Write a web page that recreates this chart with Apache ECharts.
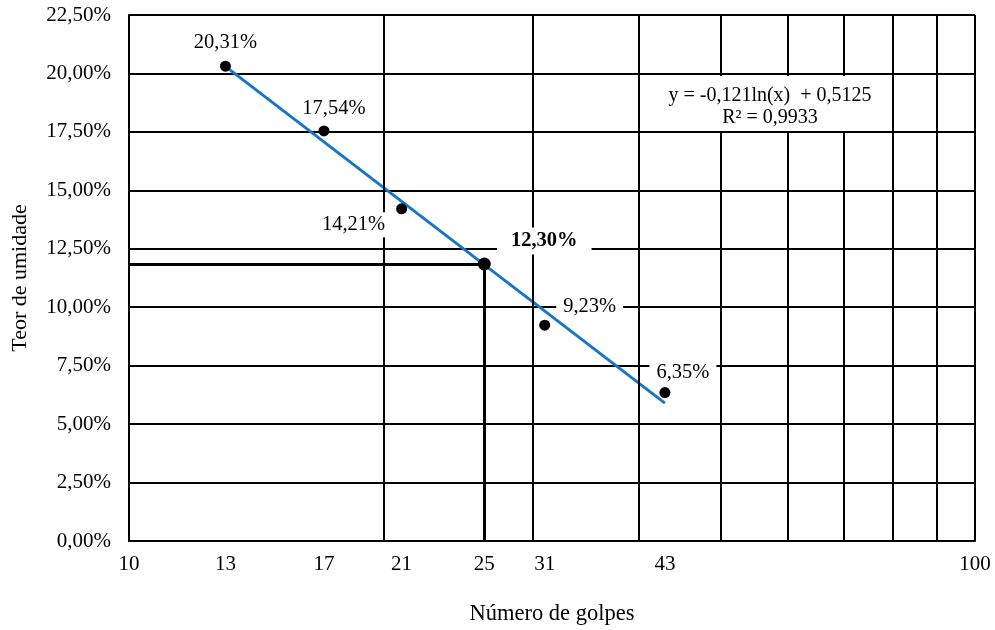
<!DOCTYPE html>
<html>
<head>
<meta charset="utf-8">
<script src="https://cdn.jsdelivr.net/npm/echarts@6/dist/echarts.min.js"></script>
<style>
html,body{margin:0;padding:0;background:#fff;}
#chart{width:995px;height:630px;}
</style>
</head>
<body>
<div id="chart"></div>
<script>
// ---- data ----
const golpes = [13, 17, 21, 26.3, 31, 43];
const teor = [20.31, 17.54, 14.21, 11.85, 9.23, 6.35];
const pointLabels = ['20,31%', '17,54%', '14,21%', '12,30%', '9,23%', '6,35%'];
const trendX = [13, 43];
const trendY = [20.3, 5.9];
const xTickPositions = [10, 13, 17, 21, 26.3, 31, 43, 100];
const xTickLabels = ['10', '13', '17', '21', '25', '31', '43', '100'];
const xGridValues = [20, 30, 40, 50, 60, 70, 80, 90];
const yMin = 0, yMax = 22.5, yStep = 2.5;
const equationLines = ['y = -0,121ln(x)  + 0,5125', 'R² = 0,9933'];
const xTitle = 'Número de golpes';
const yTitle = 'Teor de umidade';

const FONT = '"Liberation Serif", "Times New Roman", serif';

// per-point label styling
const labelStyles = [
  { offset: [0, -24] },
  { offset: [10, -22] },
  { offset: [-48, 16], backgroundColor: '#fff', padding: [2, 4] },
  { offset: [60, -23], fontWeight: 'bold', backgroundColor: '#fff', padding: [3, 14] },
  { offset: [45, -19], backgroundColor: '#fff', padding: [2, 7] },
  { offset: [18, -20], backgroundColor: '#fff', padding: [2, 7] }
];

const scatterData = golpes.map((g, i) => ({
  value: [g, teor[i]],
  symbolSize: i === 3 ? 13 : 11,
  label: Object.assign({
    show: true,
    position: 'inside',
    formatter: pointLabels[i],
    color: '#000',
    fontFamily: FONT,
    fontSize: 20.5
  }, labelStyles[i])
}));

const chart = echarts.init(document.getElementById('chart'), null, { renderer: 'canvas' });

chart.setOption({
  backgroundColor: '#fff',
  animation: false,
  grid: { left: 129, right: 20, top: 15, bottom: 89, containLabel: false, outerBoundsMode: 'none' },
  xAxis: {
    type: 'log',
    logBase: 10,
    min: 10,
    max: 100,
    name: xTitle,
    nameLocation: 'middle',
    nameGap: 62,
    nameTextStyle: { fontFamily: FONT, fontSize: 22.5, color: '#000' },
    axisLine: { show: true, lineStyle: { color: '#000', width: 2 } },
    axisTick: { show: false },
    splitLine: { show: false },
    axisLabel: {
      customValues: xTickPositions,
      formatter: function (v) {
        let best = 0;
        for (let i = 0; i < xTickPositions.length; i++) {
          if (Math.abs(xTickPositions[i] - v) < Math.abs(xTickPositions[best] - v)) best = i;
        }
        return xTickLabels[best];
      },
      margin: 13,
      fontFamily: FONT,
      fontSize: 21,
      color: '#000'
    }
  },
  yAxis: {
    type: 'value',
    min: yMin,
    max: yMax,
    interval: yStep,
    name: yTitle,
    nameLocation: 'middle',
    nameGap: 98,
    nameRotate: 90,
    nameTextStyle: { fontFamily: FONT, fontSize: 22, color: '#000' },
    axisLine: { show: true, lineStyle: { color: '#000', width: 2 } },
    axisTick: { show: false },
    splitLine: { show: true, lineStyle: { color: '#000', width: 2 } },
    axisLabel: {
      formatter: v => v.toFixed(2).replace('.', ',') + '%',
      margin: 18,
      fontFamily: FONT,
      fontSize: 21,
      color: '#000'
    }
  },
  series: [
    {
      type: 'line',
      data: [],
      silent: true,
      markLine: {
        silent: true,
        symbol: 'none',
        label: { show: false },
        lineStyle: { color: '#000', width: 2, type: 'solid' },
        data: xGridValues.map(v => ({ xAxis: v })).concat([
          { xAxis: 100 }
        ])
      },
      z: 1
    },
    {
      type: 'line',
      data: [],
      silent: true,
      markLine: {
        silent: true,
        symbol: 'none',
        label: { show: false },
        lineStyle: { color: '#000', width: 3, type: 'solid' },
        data: [
          [{ coord: [10, teor[3]] }, { coord: [golpes[3], teor[3]] }],
          [{ coord: [golpes[3], teor[3]] }, { coord: [golpes[3], 0] }]
        ]
      },
      z: 2
    },
    {
      type: 'line',
      data: trendX.map((x, i) => [x, trendY[i]]),
      showSymbol: false,
      symbol: 'none',
      lineStyle: { color: '#1a76c4', width: 3 },
      z: 3
    },
    {
      type: 'scatter',
      data: scatterData,
      itemStyle: { color: '#000', opacity: 1 },
      z: 5
    }
  ],
  graphic: [
    {
      type: 'rect',
      shape: { x: 662, y: 76, width: 219, height: 55 },
      style: { fill: '#fff' },
      z: 10
    },
    {
      type: 'text',
      x: 770, y: 96,
      style: { text: equationLines[0], fill: '#000', font: '20px ' + FONT, textAlign: 'center', textVerticalAlign: 'middle' },
      z: 11
    },
    {
      type: 'text',
      x: 770, y: 118,
      style: { text: equationLines[1], fill: '#000', font: '20px ' + FONT, textAlign: 'center', textVerticalAlign: 'middle' },
      z: 11
    }
  ]
});
</script>
</body>
</html>
